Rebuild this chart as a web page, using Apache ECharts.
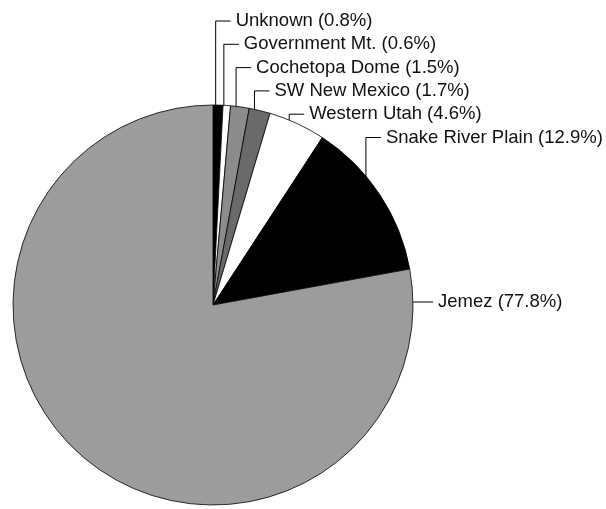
<!DOCTYPE html>
<html>
<head>
<meta charset="utf-8">
<script src="https://cdn.jsdelivr.net/npm/echarts@6/dist/echarts.min.js"></script>
<style>
  html, body { margin: 0; padding: 0; background: #fff; }
  #main { width: 606px; height: 509px; }
</style>
</head>
<body>
<div id="main"></div>
<script>
// source regions and their share (%)
var names = ['Unknown', 'Government Mt.', 'Cochetopa Dome', 'SW New Mexico', 'Western Utah', 'Snake River Plain', 'Jemez'];
var shares = [0.8, 0.6, 1.5, 1.7, 4.6, 12.9, 77.8];
var colors = ['#000000', '#ffffff', '#8c8c8c', '#6a6a6a', '#ffffff', '#000000', '#9c9c9c'];

var cx = 213, cy = 305, r = 200;
var total = shares.reduce(function (a, b) { return a + b; }, 0);

// angle of a slice middle, radians, clockwise from 12 o'clock
function midAngle(i) {
  var before = 0;
  for (var k = 0; k < i; k++) before += shares[k];
  return (before + shares[i] / 2) / total * Math.PI * 2;
}

var chart = echarts.init(document.getElementById('main'));

var data = [];
for (var i = 0; i < names.length; i++) {
  data.push({ name: names[i], value: shares[i], itemStyle: { color: colors[i] } });
}

chart.setOption({
  animation: false,
  series: [
    {
      type: 'pie',
      center: [cx, cy],
      radius: r,
      startAngle: 90,
      clockwise: true,
      avoidLabelOverlap: false,
      silent: true,
      data: data,
      itemStyle: {
        borderColor: '#000',
        borderWidth: 0.8
      },
      label: {
        show: true,
        formatter: '{b} ({c}%)',
        fontFamily: 'Liberation Sans, Arial, sans-serif',
        fontSize: 18.5,
        color: '#111'
      },
      labelLine: {
        show: true,
        lineStyle: { color: '#000', width: 1 }
      },
      labelLayout: function (params) {
        var i = params.dataIndex;
        if (i === names.length - 1) {
          // Jemez label sits to the right, straight leader
          var yj = cy - 3;
          return {
            x: cx + r + 25, y: yj, align: 'left', verticalAlign: 'middle',
            labelLinePoints: [[cx + r - 16, yj], [cx + r + 4, yj], [cx + r + 20, yj]]
          };
        }
        var a = midAngle(i);
        var lx = cx + 0.93 * r * Math.sin(a) - 2;
        var edgeY = cy - Math.sqrt(r * r - (lx - cx) * (lx - cx));
        var ly = 21 + i * 23.3;
        return {
          x: lx + 20, y: ly, align: 'left', verticalAlign: 'middle',
          labelLinePoints: [[lx, edgeY + 12], [lx, ly], [lx + 15, ly]]
        };
      }
    }
  ]
});
</script>
</body>
</html>
